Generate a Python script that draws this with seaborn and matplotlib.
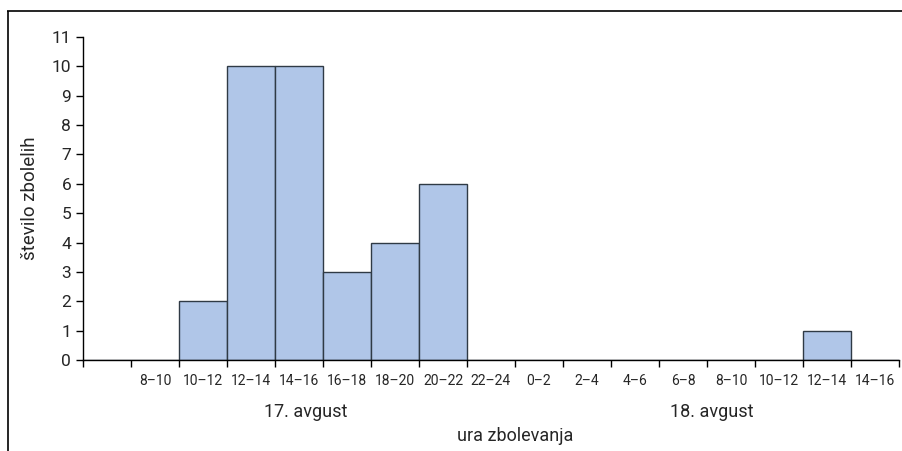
import pandas as pd
import numpy as np
import seaborn as sns
import matplotlib.pyplot as plt
from matplotlib.lines import Line2D

# two-hour slots over 17 and 18 August
days = ['17', '17', '17', '17', '17', '17', '17', '17', '17',
        '18', '18', '18', '18', '18', '18', '18', '18']
hour_labels = ['', '8–10', '10–12', '12–14', '14–16', '16–18', '18–20', '20–22', '22–24',
               '0–2', '2–4', '4–6', '6–8', '8–10', '10–12', '12–14', '14–16']
cases = [0, 0, 2, 10, 10, 3, 4, 6, 0, 0, 0, 0, 0, 0, 0, 1, 0]
day_labels = ['17. avgust', '18. avgust']

df = pd.DataFrame({
    'slot': [d + '|' + h + '|' + str(i) for i, (d, h) in enumerate(zip(days, hour_labels))],
    'cases': cases,
})

sns.set_style('white')
plt.rcParams['font.family'] = ['Roboto', 'DejaVu Sans']

fig = plt.figure(figsize=(9.03, 4.51), dpi=100)
ax = fig.add_axes([83 / 903, 91 / 451, 816 / 903, 323 / 451])

sns.barplot(data=df, x='slot', y='cases', order=df['slot'], width=1.0,
            color='#b0c6e8', edgecolor='#2f3a45', linewidth=1.0, saturation=1, ax=ax)

n = len(cases)
ax.set_xlim(-0.5, n - 0.5)
ax.set_ylim(0, 11)
ax.set_yticks(range(0, 12))
ax.tick_params(axis='y', which='major', left=True, length=5, width=1, color='black',
               labelsize=12.5, pad=3.5)

# bin edges get tick marks, bin centres get the labels
ax.set_xticks(np.arange(-0.5, n, 1.0))
ax.set_xticklabels([])
ax.set_xticks(np.arange(n), minor=True)
ax.set_xticklabels(hour_labels, minor=True)
ax.tick_params(axis='x', which='major', bottom=True, length=5, width=1, color='black')
ax.tick_params(axis='x', which='minor', bottom=False, length=0, labelsize=10, pad=10)

for s in ['top', 'right']:
    ax.spines[s].set_visible(False)
for s in ['left', 'bottom']:
    ax.spines[s].set_color('black')
    ax.spines[s].set_linewidth(1)

ax.set_xlabel('')
ax.set_ylabel('število zbolelih', fontsize=13.5, labelpad=9)

ax.text(4.15, -1.77, day_labels[0], ha='center', va='center', fontsize=13)
ax.text(12.6, -1.77, day_labels[1], ha='center', va='center', fontsize=13)
ax.text(8.5, -2.6, 'ura zbolevanja', ha='center', va='center', fontsize=13)

# frame round the figure (only top and left show)
fig.add_artist(Line2D([7 / 903, 1.0], [1 - 10.5 / 451, 1 - 10.5 / 451], color='black',
                      lw=1.2, solid_capstyle='butt'))
fig.add_artist(Line2D([7.5 / 903, 7.5 / 903], [0.0, 1 - 10.5 / 451], color='black',
                      lw=1.2, solid_capstyle='butt'))

fig.savefig('out.png', dpi=100)
